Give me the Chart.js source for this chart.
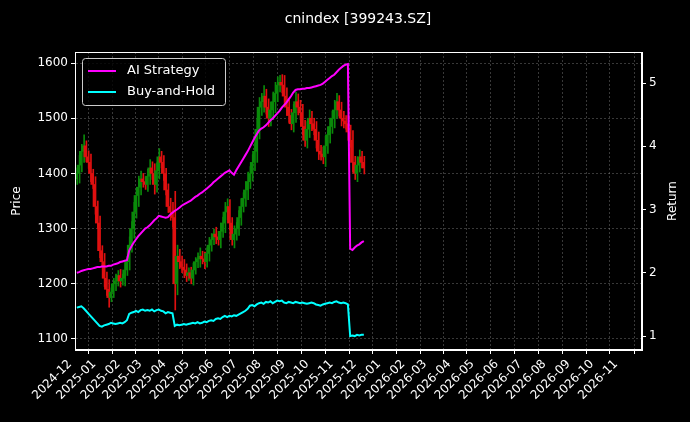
<!DOCTYPE html>
<html><head><meta charset="utf-8">
<script src="https://cdn.jsdelivr.net/npm/chart.js@4"></script>
<style>html,body{margin:0;padding:0;background:#000;}#wrap{width:690px;height:422px;}</style>
</head><body><div id="wrap"><canvas id="c"></canvas></div>
<script>
const startDate = '2024-12-02';
const endDate = '2025-12-05';
const closes = [1400,1415,1440,1450,1430,1420,1400,1380,1340,1310,
1260,1240,1210,1190,1175,1185,1200,1205,1215,1205,
1210,1225,1240,1270,1300,1330,1360,1375,1390,1385,
1380,1395,1410,1400,1380,1405,1430,1420,1400,1370,
1340,1330,1320,1200,1250,1240,1230,1225,1215,1220,
1210,1225,1240,1245,1250,1245,1240,1255,1270,1280,
1290,1285,1280,1295,1310,1330,1340,1310,1280,1290,
1300,1320,1340,1355,1370,1385,1400,1420,1440,1480,
1520,1530,1540,1520,1500,1515,1530,1545,1560,1565,
1560,1540,1520,1505,1490,1510,1530,1520,1510,1485,
1460,1480,1500,1490,1480,1460,1440,1435,1430,1450,
1470,1485,1500,1515,1530,1515,1500,1495,1490,1475,
1460,1420,1400,1415,1430,1420,1410];
const wicks = [20,35,25,40,18,22,30,15,28,20, 25,18,30,22,35,15,20,25,18,22, 15,28,20,30,25,35,22,40,28,20, 18,25,30,22,35,28,30,20,25,18, 22,30,35,95,40,25,20,28,22,18, 20,25,15,22,30,18,25,20,28,22, 18,25,20,30,22,35,28,25,20,30, 22,25,28,20,30,35,25,28,30,40, 35,30,38,25,30,28,35,40,30,25, 28,35,30,25,22,30,35,28,25,30, 22,28,30,25,20,28,30,22,25,35, 28,30,25,35,30,22,28,25,20,30, 25,35,22,30,25,20,22];
const strategy = [2.00,2.01,2.03,2.04,2.05,2.06,2.06,2.07,2.08,2.09,
2.09,2.10,2.10,2.10,2.11,2.11,2.13,2.14,2.15,2.17,
2.18,2.19,2.20,2.35,2.42,2.48,2.53,2.58,2.62,2.66,
2.70,2.72,2.75,2.79,2.83,2.86,2.90,2.89,2.88,2.87,
2.88,2.92,2.95,2.98,3.00,3.03,3.06,3.08,3.10,3.12,
3.14,3.17,3.20,3.22,3.25,3.27,3.30,3.33,3.36,3.39,
3.43,3.46,3.49,3.52,3.55,3.58,3.60,3.62,3.58,3.55,
3.62,3.68,3.74,3.80,3.86,3.92,3.99,4.06,4.13,4.19,
4.25,4.28,4.30,4.33,4.37,4.41,4.44,4.48,4.52,4.56,
4.61,4.65,4.69,4.74,4.79,4.85,4.89,4.90,4.90,4.91,
4.91,4.92,4.92,4.93,4.94,4.95,4.96,4.97,4.99,5.02,
5.05,5.08,5.11,5.13,5.17,5.21,5.24,5.27,5.29,5.30,
2.38,2.36,2.40,2.43,2.45,2.48,2.50];
const buyHold = [1.45,1.46,1.47,1.44,1.40,1.36,1.32,1.28,1.24,1.20,
1.16,1.15,1.17,1.18,1.19,1.21,1.20,1.19,1.20,1.21,
1.20,1.22,1.25,1.35,1.37,1.38,1.40,1.38,1.41,1.42,
1.40,1.41,1.40,1.42,1.39,1.41,1.42,1.40,1.39,1.36,
1.38,1.37,1.36,1.16,1.18,1.17,1.18,1.19,1.18,1.19,
1.20,1.21,1.20,1.22,1.20,1.21,1.23,1.22,1.24,1.25,
1.24,1.27,1.28,1.27,1.30,1.32,1.30,1.32,1.31,1.33,
1.32,1.34,1.36,1.38,1.40,1.43,1.48,1.49,1.47,1.50,
1.52,1.53,1.51,1.54,1.53,1.55,1.52,1.54,1.56,1.55,
1.56,1.53,1.52,1.54,1.53,1.52,1.54,1.53,1.52,1.53,
1.52,1.51,1.52,1.53,1.52,1.50,1.49,1.48,1.50,1.51,
1.52,1.53,1.52,1.54,1.55,1.53,1.52,1.53,1.52,1.50,
1.00,1.01,1.00,1.02,1.01,1.02,1.02];
const monthLabels = ['2024-12','2025-01','2025-02','2025-03','2025-04','2025-05','2025-06','2025-07','2025-08','2025-09','2025-10','2025-11','2025-12','2026-01','2026-02','2026-03','2026-04','2026-05','2026-06','2026-07','2026-08','2026-09','2026-10','2026-11'];
const priceTicks = [1100,1200,1300,1400,1500,1600];
const returnTicks = [1,2,3,4,5];

const DAY = 86400000;
const base = Date.UTC(2024,11,1);
const dayOf = s => (Date.parse(s+'T00:00:00Z') - base)/DAY;
const d0 = dayOf(startDate), d1 = dayOf(endDate);
const n = closes.length;
const xs = closes.map((_, i) => d0 + (d1 - d0) * i / (n - 1));
const opens = closes.map((c, i) => i === 0 ? c - 10 : closes[i-1]);
const wickData = closes.map((c, i) => ({x: xs[i], y: [Math.min(c, opens[i]) - wicks[i]*0.5, Math.max(c, opens[i]) + wicks[i]*0.5]}));
const bodyData = closes.map((c, i) => ({x: xs[i], y: [opens[i], c]}));
const cols = closes.map((c, i) => c >= opens[i] ? '#0a8a0a' : '#e01010');
const monthTicks = monthLabels.map(m => dayOf(m + '-01'));

const overlay = {
  id: 'overlay',
  afterDraw(ch) {
    const ctx = ch.ctx, a = ch.chartArea;
    ctx.save();
    ctx.fillStyle = '#fff';
    ctx.font = '14px "DejaVu Sans"';
    ctx.textAlign = 'center'; ctx.textBaseline = 'middle';
    ctx.fillText('cnindex [399243.SZ]', 358, 19);
    ctx.font = '12px "DejaVu Sans"';
    ctx.save(); ctx.translate(17, (a.top + a.bottom) / 2); ctx.rotate(-Math.PI / 2); ctx.fillText('Price', 0, 0); ctx.restore();
    ctx.save(); ctx.translate(673, (a.top + a.bottom) / 2); ctx.rotate(-Math.PI / 2); ctx.fillText('Return', 0, 0); ctx.restore();
    ctx.strokeStyle = '#fff'; ctx.lineWidth = 1;
    ctx.strokeRect(a.left + 0.5, a.top + 0.5, a.right - a.left - 1, a.bottom - a.top - 1);
    const lx = 82, ly = 58, lw = 143, lh = 47;
    ctx.fillStyle = 'rgba(0,0,0,0.8)';
    ctx.fillRect(lx, ly, lw, lh);
    ctx.strokeStyle = '#cccccc';
    ctx.beginPath(); ctx.roundRect(lx + 0.5, ly + 0.5, lw, lh, 3); ctx.stroke();
    const items = [['AI Strategy', '#ff00ff'], ['Buy-and-Hold', '#00ffff']];
    ctx.font = '13px "DejaVu Sans"'; ctx.textAlign = 'left';
    items.forEach((it, k) => {
      const y = ly + 13 + k * 21;
      ctx.strokeStyle = it[1]; ctx.lineWidth = 2;
      ctx.beginPath(); ctx.moveTo(lx + 6, y); ctx.lineTo(lx + 34, y); ctx.stroke();
      ctx.fillStyle = '#fff'; ctx.fillText(it[0], lx + 45, y);
    });
    ctx.restore();
  }
};

new Chart(document.getElementById('c'), {
  data: {
    datasets: [
      {type: 'line', label: 'AI Strategy', data: strategy.map((v, i) => ({x: xs[i], y: v})), yAxisID: 'y2', borderColor: '#ff00ff', borderWidth: 2, pointRadius: 0, tension: 0, order: 0},
      {type: 'line', label: 'Buy-and-Hold', data: buyHold.map((v, i) => ({x: xs[i], y: v})), yAxisID: 'y2', borderColor: '#00ffff', borderWidth: 2, pointRadius: 0, tension: 0, order: 0},
      {type: 'bar', data: wickData, yAxisID: 'y', backgroundColor: cols, barThickness: 1, order: 2},
      {type: 'bar', data: bodyData, yAxisID: 'y', backgroundColor: cols, barThickness: 2, minBarLength: 1, order: 1}
    ]
  },
  options: {
    responsive: true, maintainAspectRatio: false, animation: false,
    layout: {padding: {top: 52, left: 0, right: 0, bottom: 0}},
    plugins: {legend: {display: false}, tooltip: {enabled: false}},
    scales: {
      x: {type: 'linear', min: -1.3, max: 725.6, offset: false,
        afterBuildTicks: s => { s.ticks = monthTicks.map(v => ({value: v})); },
        afterFit: s => { s.height = 72; },
        ticks: {color: '#fff', font: {size: 12, family: 'DejaVu Sans'}, maxRotation: 45, minRotation: 45, autoSkip: false, labelOffset: -6,
          callback: (v) => { const k = monthTicks.indexOf(v); return k >= 0 ? monthLabels[k] : ''; }},
        grid: {color: 'rgba(160,160,160,0.35)', tickColor: '#fff', tickLength: 4},
        border: {color: '#fff', dash: [2,2]}
      },
      y: {position: 'left', min: 1080, max: 1620,
        afterBuildTicks: s => { s.ticks = priceTicks.map(v => ({value: v})); },
        afterFit: s => { s.width = 75; },
        ticks: {color: '#fff', font: {size: 12, family: 'DejaVu Sans'}, callback: v => String(v)},
        grid: {color: 'rgba(160,160,160,0.35)', tickColor: '#fff', tickLength: 4},
        border: {color: '#fff', dash: [2,2]}
      },
      y2: {position: 'right', min: 0.78, max: 5.49,
        afterBuildTicks: s => { s.ticks = returnTicks.map(v => ({value: v})); },
        afterFit: s => { s.width = 48; },
        ticks: {color: '#fff', font: {size: 12, family: 'DejaVu Sans'}, callback: v => String(v)},
        grid: {drawOnChartArea: false, tickColor: '#fff', tickLength: 4},
        border: {color: '#fff'}
      }
    }
  },
  plugins: [overlay]
});
</script></body></html>
